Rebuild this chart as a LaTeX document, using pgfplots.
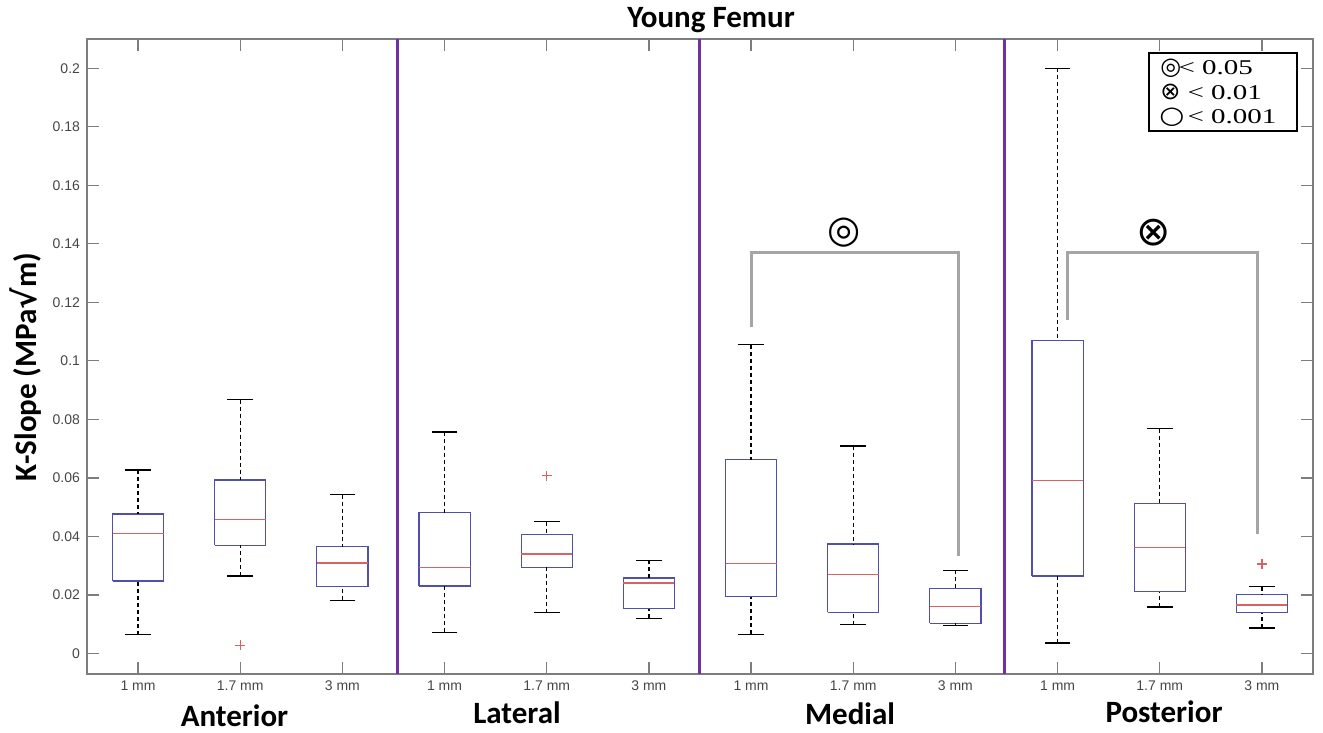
\documentclass[border=0pt]{standalone}
\usepackage{pgfplots}
\pgfplotsset{compat=1.18}
\usepackage{fontspec}
\setmainfont{Liberation Sans}
\newfontfamily\labelfont{Carlito}
\newfontfamily\seriffont{Liberation Serif}
\newfontfamily\symfont{DejaVu Sans}

\definecolor{boxblue}{RGB}{80,80,170}
\definecolor{medred}{RGB}{215,100,100}
\definecolor{divpurple}{RGB}{112,48,160}
\definecolor{brgray}{RGB}{165,165,165}
\definecolor{axgray}{RGB}{125,125,125}
\definecolor{tickgray}{RGB}{70,70,70}

\begin{document}
\begin{tikzpicture}
\useasboundingbox (0,0) rectangle (661.5pt,366.5pt);
\begin{axis}[
  at={(43.5pt,29.5pt)}, anchor=south west,
  scale only axis, width=613pt, height=317.5pt,
  xmin=0.5, xmax=12.5, ymin=-0.007, ymax=0.21,
  xtick={1,2,3,4,5,6,7,8,9,10,11,12},
  xticklabels={1 mm,1.7 mm,3 mm,1 mm,1.7 mm,3 mm,1 mm,1.7 mm,3 mm,1 mm,1.7 mm,3 mm},
  ytick={0,0.02,0.04,0.06,0.08,0.1,0.12,0.14,0.16,0.18,0.2},
  yticklabels={0,0.02,0.04,0.06,0.08,0.1,0.12,0.14,0.16,0.18,0.2},
  tick label style={font=\fontsize{7}{8}\selectfont, text=tickgray},
  tick align=inside, major tick length=6pt,
  every tick/.style={axgray, line width=0.6pt},
  axis line style={axgray, line width=0.75pt},
  unbounded coords=jump,
]
% boxes (lower quartile to upper quartile), one rectangle per group
\addplot[boxblue, line width=0.6pt, line join=miter, mark=none] coordinates {
  (0.75,0.0248) (1.25,0.0248) (1.25,0.0477) (0.75,0.0477) (0.75,0.0248) (1,nan)
  (1.75,0.0370) (2.25,0.0370) (2.25,0.0593) (1.75,0.0593) (1.75,0.0370) (2,nan)
  (2.75,0.0228) (3.25,0.0228) (3.25,0.0365) (2.75,0.0365) (2.75,0.0228) (3,nan)
  (3.75,0.0231) (4.25,0.0231) (4.25,0.0481) (3.75,0.0481) (3.75,0.0231) (4,nan)
  (4.75,0.0294) (5.25,0.0294) (5.25,0.0408) (4.75,0.0408) (4.75,0.0294) (5,nan)
  (5.75,0.0153) (6.25,0.0153) (6.25,0.0258) (5.75,0.0258) (5.75,0.0153) (6,nan)
  (6.75,0.0194) (7.25,0.0194) (7.25,0.0662) (6.75,0.0662) (6.75,0.0194) (7,nan)
  (7.75,0.0141) (8.25,0.0141) (8.25,0.0374) (7.75,0.0374) (7.75,0.0141) (8,nan)
  (8.75,0.0103) (9.25,0.0103) (9.25,0.0221) (8.75,0.0221) (8.75,0.0103) (9,nan)
  (9.75,0.0265) (10.25,0.0265) (10.25,0.1070) (9.75,0.1070) (9.75,0.0265) (10,nan)
  (10.75,0.0211) (11.25,0.0211) (11.25,0.0513) (10.75,0.0513) (10.75,0.0211) (11,nan)
  (11.75,0.0139) (12.25,0.0139) (12.25,0.0202) (11.75,0.0202) (11.75,0.0139)
};
% whiskers (whisker end to quartile)
\addplot[black, line width=0.6pt, dash pattern=on 2pt off 1.5pt, mark=none] coordinates {
  (1,0.0627) (1,0.0477) (1,nan) (1,0.0064) (1,0.0248) (1,nan)
  (2,0.0868) (2,0.0593) (2,nan) (2,0.0265) (2,0.0370) (2,nan)
  (3,0.0543) (3,0.0365) (3,nan) (3,0.0182) (3,0.0228) (3,nan)
  (4,0.0757) (4,0.0481) (4,nan) (4,0.0072) (4,0.0231) (4,nan)
  (5,0.0450) (5,0.0408) (5,nan) (5,0.0139) (5,0.0294) (5,nan)
  (6,0.0319) (6,0.0258) (6,nan) (6,0.0120) (6,0.0153) (6,nan)
  (7,0.1055) (7,0.0662) (7,nan) (7,0.0065) (7,0.0194) (7,nan)
  (8,0.0709) (8,0.0374) (8,nan) (8,0.0099) (8,0.0141) (8,nan)
  (9,0.0285) (9,0.0221) (9,nan) (9,0.0096) (9,0.0103) (9,nan)
  (10,0.2000) (10,0.1070) (10,nan) (10,0.0036) (10,0.0265) (10,nan)
  (11,0.0768) (11,0.0513) (11,nan) (11,0.0159) (11,0.0211) (11,nan)
  (12,0.0229) (12,0.0202) (12,nan) (12,0.0087) (12,0.0139)
};
% whisker caps
\addplot[only marks, mark=-, mark size=6.4pt, black, mark options={line width=0.6pt}] coordinates {
  (1,0.0627) (1,0.0064) (2,0.0868) (2,0.0265) (3,0.0543) (3,0.0182)
  (4,0.0757) (4,0.0072) (5,0.0450) (5,0.0139) (6,0.0319) (6,0.0120)
  (7,0.1055) (7,0.0065) (8,0.0709) (8,0.0099) (9,0.0285) (9,0.0096)
  (10,0.2000) (10,0.0036) (11,0.0768) (11,0.0159) (12,0.0229) (12,0.0087)
};
% medians
\addplot[only marks, mark=-, mark size=12.77pt, medred, mark options={line width=0.6pt}] coordinates {
  (1,0.0411) (2,0.0457) (3,0.0309) (4,0.0295) (5,0.0340) (6,0.0241)
  (7,0.0308) (8,0.0271) (9,0.0162) (10,0.0591) (11,0.0363) (12,0.0166)
};
% outliers
\addplot[only marks, mark=+, mark size=2.5pt, medred, mark options={line width=0.6pt}] coordinates {(2,0.0028) (5,0.0607) (12,0.0306)};

% region dividers
\draw[divpurple, line width=1.5pt] (axis cs:3.54,-0.007) -- (axis cs:3.54,0.21);
\draw[divpurple, line width=1.5pt] (axis cs:6.495,-0.007) -- (axis cs:6.495,0.21);
\draw[divpurple, line width=1.5pt] (axis cs:9.485,-0.007) -- (axis cs:9.485,0.21);

% significance brackets
\draw[brgray, line width=1.5pt] (axis cs:7,0.1115) -- (axis cs:7,0.137) -- (axis cs:9.03,0.137) -- (axis cs:9.03,0.0333);
\draw[brgray, line width=1.5pt] (axis cs:10.1,0.1139) -- (axis cs:10.1,0.137) -- (axis cs:11.96,0.137) -- (axis cs:11.96,0.0407);
\node[font=\symfont\fontsize{19}{19}\selectfont] at (axis cs:7.915,0.1438) {◎};
\node[font=\symfont\fontsize{20.5}{20.5}\selectfont] at (axis cs:10.945,0.1438) {⊗};
\end{axis}

\begin{scope}[x=0.5pt, y=-0.5pt, yshift=366.5pt]
  % title and axis labels
  \node[anchor=base, font=\labelfont\bfseries\fontsize{15.5}{16}\selectfont, inner sep=0pt] at (711,28) {Young Femur};
  \node[anchor=base, rotate=90, font=\labelfont\bfseries\fontsize{15.5}{16}\selectfont, inner sep=0pt] at (36,367) {K-Slope (MPa{\symfont\fontsize{16}{16}\selectfont √}m)};
  \node[anchor=base, font=\labelfont\bfseries\fontsize{15.5}{16}\selectfont, inner sep=0pt] at (234.5,727) {Anterior};
  \node[anchor=base, font=\labelfont\bfseries\fontsize{15.5}{16}\selectfont, inner sep=0pt] at (517,723.5) {Lateral};
  \node[anchor=base, font=\labelfont\bfseries\fontsize{15.5}{16}\selectfont, inner sep=0pt] at (850,725) {Medial};
  \node[anchor=base, font=\labelfont\bfseries\fontsize{15.5}{16}\selectfont, inner sep=0pt] at (1164,723) {Posterior};
  % significance key
  \draw[black, line width=0.75pt, fill=white] (1149,53) rectangle (1297,131);
  \node[anchor=base west, inner sep=0pt, font=\symfont\fontsize{12}{12}\selectfont] at (1160,75) {◎};
  \node[anchor=base west, inner sep=0pt, xscale=1.38, font=\seriffont\fontsize{10.5}{11}\selectfont] at (1178,75) {< 0.05};
  \node[anchor=base west, inner sep=0pt, font=\symfont\fontsize{12}{12}\selectfont] at (1160,100) {⊗};
  \node[anchor=base west, inner sep=0pt, xscale=1.38, font=\seriffont\fontsize{10.5}{11}\selectfont] at (1187,100) {< 0.01};
  \node[anchor=base west, inner sep=0pt, xscale=1.2, font=\symfont\fontsize{12}{12}\selectfont] at (1159,124) {○};
  \node[anchor=base west, inner sep=0pt, xscale=1.38, font=\seriffont\fontsize{10.5}{11}\selectfont] at (1187,124) {< 0.001};
\end{scope}
\end{tikzpicture}
\end{document}
